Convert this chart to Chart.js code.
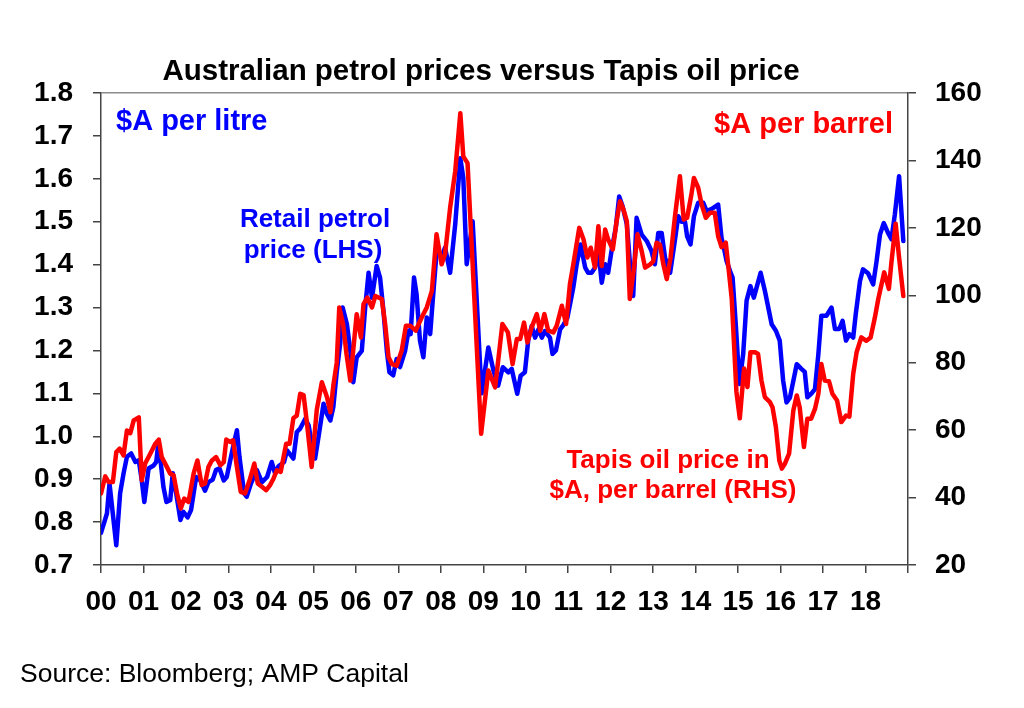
<!DOCTYPE html>
<html>
<head>
<meta charset="utf-8">
<title>Australian petrol prices versus Tapis oil price</title>
<script src="https://cdn.jsdelivr.net/npm/chart.js@4.4.0/dist/chart.umd.min.js"></script>
<style>
  html, body { margin: 0; padding: 0; background: #fff; }
  #wrap { width: 1024px; height: 708px; }
</style>
</head>
<body>
<div id="wrap"><canvas id="chart" width="1024" height="708"></canvas></div>
<script>
// years since 2000
const petrolYears = [
  0.00, 0.14, 0.20, 0.36, 0.45, 0.53, 0.61, 0.71, 0.81, 0.89,
  0.96, 1.02, 1.12, 1.24, 1.30, 1.34, 1.40, 1.47, 1.54, 1.63,
  1.69, 1.77, 1.87, 1.94, 2.04, 2.12, 2.24, 2.34, 2.45, 2.53,
  2.63, 2.71, 2.79, 2.89, 2.96, 3.11, 3.20, 3.26, 3.37, 3.43,
  3.53, 3.67, 3.79, 3.91, 4.02, 4.10, 4.18, 4.31, 4.38, 4.53,
  4.61, 4.69, 4.81, 4.89, 4.96, 5.04, 5.12, 5.24, 5.32, 5.40,
  5.47, 5.55, 5.63, 5.69, 5.79, 5.87, 5.94, 6.02, 6.14, 6.22,
  6.30, 6.38, 6.49, 6.57, 6.65, 6.73, 6.79, 6.88, 6.96, 7.04,
  7.16, 7.24, 7.29, 7.37, 7.43, 7.51, 7.59, 7.67, 7.75, 7.81,
  7.91, 8.02, 8.10, 8.22, 8.34, 8.46, 8.53, 8.61, 8.75, 8.96,
  9.12, 9.24, 9.35, 9.46, 9.59, 9.67, 9.80, 9.88, 9.98, 10.06,
  10.14, 10.22, 10.30, 10.38, 10.45, 10.57, 10.63, 10.71, 10.81, 10.89,
  10.98, 11.06, 11.12, 11.20, 11.29, 11.40, 11.47, 11.55, 11.63, 11.71,
  11.79, 11.87, 11.94, 12.02, 12.12, 12.20, 12.28, 12.38, 12.45, 12.53,
  12.61, 12.73, 12.85, 12.96, 13.04, 13.12, 13.20, 13.28, 13.40, 13.51,
  13.59, 13.67, 13.75, 13.80, 13.88, 13.96, 14.06, 14.18, 14.26, 14.38,
  14.53, 14.61, 14.65, 14.73, 14.81, 14.87, 14.95, 15.03, 15.12, 15.20,
  15.29, 15.37, 15.53, 15.63, 15.79, 15.89, 15.98, 16.06, 16.14, 16.22,
  16.38, 16.49, 16.57, 16.63, 16.73, 16.81, 16.89, 16.96, 17.08, 17.20,
  17.28, 17.38, 17.46, 17.54, 17.62, 17.71, 17.77, 17.87, 17.94, 18.06,
  18.18, 18.26, 18.34, 18.43, 18.53, 18.61, 18.69, 18.79, 18.89
];
// retail petrol, $A per litre (LHS)
const petrolPrice = [
  0.775, 0.820, 0.890, 0.746, 0.867, 0.913, 0.952, 0.960, 0.940, 0.944,
  0.897, 0.847, 0.925, 0.932, 0.940, 0.975, 0.944, 0.882, 0.847, 0.851,
  0.914, 0.867, 0.805, 0.824, 0.811, 0.828, 0.905, 0.897, 0.873, 0.893,
  0.899, 0.922, 0.925, 0.897, 0.905, 0.975, 1.014, 0.952, 0.867, 0.859,
  0.890, 0.921, 0.893, 0.905, 0.940, 0.913, 0.930, 0.940, 0.967, 0.948,
  1.010, 1.018, 1.041, 1.025, 0.983, 0.948, 0.998, 1.076, 1.052, 1.037,
  1.068, 1.150, 1.215, 1.300, 1.261, 1.199, 1.126, 1.184, 1.199, 1.300,
  1.381, 1.323, 1.397, 1.370, 1.292, 1.199, 1.149, 1.142, 1.180, 1.161,
  1.199, 1.246, 1.238, 1.370, 1.331, 1.223, 1.184, 1.277, 1.238, 1.316,
  1.440, 1.417, 1.440, 1.381, 1.494, 1.648, 1.602, 1.401, 1.501, 1.100,
  1.207, 1.153, 1.118, 1.161, 1.149, 1.157, 1.099, 1.141, 1.149, 1.225,
  1.257, 1.230, 1.249, 1.230, 1.245, 1.230, 1.192, 1.200, 1.249, 1.260,
  1.276, 1.316, 1.347, 1.401, 1.447, 1.393, 1.381, 1.381, 1.393, 1.432,
  1.358, 1.401, 1.381, 1.432, 1.486, 1.559, 1.536, 1.494, 1.408, 1.327,
  1.509, 1.470, 1.455, 1.432, 1.401, 1.474, 1.474, 1.416, 1.381, 1.455,
  1.513, 1.500, 1.500, 1.466, 1.447, 1.513, 1.544, 1.544, 1.525, 1.530,
  1.540, 1.462, 1.447, 1.408, 1.385, 1.370, 1.253, 1.122, 1.192, 1.316,
  1.350, 1.323, 1.381, 1.339, 1.261, 1.246, 1.223, 1.130, 1.079, 1.090,
  1.168, 1.157, 1.150, 1.091, 1.100, 1.110, 1.192, 1.281, 1.281, 1.300,
  1.250, 1.250, 1.269, 1.223, 1.238, 1.230, 1.285, 1.362, 1.389, 1.380,
  1.354, 1.408, 1.470, 1.497, 1.474, 1.459, 1.517, 1.606, 1.455
];

const oilYears = [
  0.00, 0.10, 0.18, 0.28, 0.36, 0.44, 0.53, 0.61, 0.69, 0.77,
  0.89, 0.96, 1.04, 1.16, 1.28, 1.36, 1.43, 1.55, 1.63, 1.71,
  1.79, 1.88, 1.96, 2.06, 2.18, 2.27, 2.37, 2.45, 2.53, 2.61,
  2.71, 2.81, 2.89, 2.95, 3.04, 3.11, 3.20, 3.29, 3.39, 3.51,
  3.61, 3.69, 3.79, 3.89, 3.98, 4.06, 4.14, 4.23, 4.36, 4.44,
  4.53, 4.61, 4.69, 4.77, 4.85, 4.96, 5.08, 5.20, 5.32, 5.40,
  5.47, 5.55, 5.61, 5.70, 5.78, 5.87, 6.02, 6.12, 6.18, 6.27,
  6.38, 6.46, 6.61, 6.69, 6.77, 6.85, 6.96, 7.08, 7.18, 7.28,
  7.41, 7.55, 7.67, 7.79, 7.90, 8.02, 8.10, 8.22, 8.34, 8.46,
  8.53, 8.63, 8.95, 9.12, 9.28, 9.45, 9.58, 9.69, 9.79, 9.87,
  9.96, 10.04, 10.14, 10.26, 10.34, 10.44, 10.53, 10.65, 10.73, 10.85,
  10.95, 11.04, 11.12, 11.26, 11.36, 11.45, 11.53, 11.63, 11.71, 11.79,
  11.87, 11.94, 12.05, 12.14, 12.22, 12.30, 12.38, 12.45, 12.55, 12.63,
  12.73, 12.81, 12.93, 13.00, 13.08, 13.16, 13.24, 13.32, 13.41, 13.51,
  13.63, 13.72, 13.80, 13.90, 13.96, 14.06, 14.14, 14.24, 14.34, 14.45,
  14.53, 14.61, 14.71, 14.79, 14.85, 14.96, 15.04, 15.14, 15.22, 15.29,
  15.40, 15.47, 15.55, 15.63, 15.75, 15.81, 15.89, 15.97, 16.03, 16.10,
  16.20, 16.30, 16.38, 16.45, 16.55, 16.63, 16.72, 16.81, 16.89, 16.96,
  17.04, 17.14, 17.22, 17.33, 17.43, 17.54, 17.62, 17.71, 17.79, 17.90,
  18.02, 18.12, 18.22, 18.30, 18.44, 18.55, 18.61, 18.71, 18.79, 18.89
];
// Tapis oil, $A per barrel (RHS)
const oilPrice = [
  41.2, 46.3, 44.6, 44.6, 53.5, 54.5, 52.5, 59.9, 59.1, 62.9,
  63.8, 45.1, 50.1, 53.0, 56.0, 57.2, 52.0, 49.1, 47.1, 46.6,
  41.2, 36.8, 39.7, 38.7, 47.1, 51.0, 43.7, 44.2, 49.1, 51.0,
  52.0, 49.6, 50.5, 57.2, 56.5, 57.0, 49.1, 41.7, 41.2, 45.6,
  50.1, 44.2, 43.2, 42.2, 43.7, 45.6, 48.1, 47.6, 56.0, 56.0,
  63.6, 64.3, 70.8, 70.4, 62.0, 49.1, 66.0, 74.2, 69.8, 65.3,
  73.2, 80.0, 96.4, 91.5, 82.6, 74.7, 94.4, 87.5, 97.4, 99.3,
  96.4, 99.8, 98.9, 91.5, 81.6, 79.6, 79.1, 83.6, 91.0, 91.0,
  89.5, 93.4, 96.4, 101.3, 118.1, 109.2, 112.2, 126.0, 136.8, 154.0,
  141.2, 139.2, 58.9, 77.7, 72.7, 91.5, 89.0, 79.6, 87.0, 87.0,
  91.9, 86.0, 90.5, 94.4, 89.5, 94.4, 89.5, 89.0, 91.0, 96.9,
  91.5, 103.3, 109.2, 120.0, 116.6, 111.2, 114.1, 108.2, 120.5, 108.7,
  119.5, 116.6, 113.6, 122.0, 127.9, 125.5, 122.0, 98.9, 108.2, 118.1,
  113.1, 108.2, 109.2, 110.0, 115.6, 115.0, 109.2, 104.8, 111.2, 123.0,
  135.3, 122.5, 123.0, 129.9, 134.8, 131.9, 127.0, 123.0, 124.5, 124.5,
  117.5, 114.3, 115.6, 106.2, 99.0, 71.4, 63.5, 78.3, 72.8, 83.1,
  83.1, 82.6, 74.7, 69.8, 68.3, 66.8, 60.9, 51.0, 48.6, 50.0,
  53.0, 65.8, 70.3, 66.8, 55.0, 63.4, 63.4, 66.3, 70.8, 79.6,
  74.7, 74.5, 70.8, 68.8, 62.4, 64.3, 64.0, 76.7, 83.1, 87.5,
  86.5, 87.5, 93.4, 98.9, 106.8, 101.9, 109.8, 121.2, 111.2, 99.8
];

const yearLabels = ['00', '01', '02', '03', '04', '05', '06', '07', '08', '09',
  '10', '11', '12', '13', '14', '15', '16', '17', '18'];

const FONT = "'Liberation Sans', Arial, Helvetica, sans-serif";
const BLUE = '#0000ff';
const RED = '#ff0000';
const AXIS = '#444444';

const toPoints = (xs, ys) => ys.map((y, i) => ({ x: xs[i], y: y }));

// chart texts (title, series notes, source)
const notes = {
  id: 'notes',
  afterDraw(chart) {
    const c = chart.ctx;
    const put = (text, x, y, color, size, align, weight) => {
      c.font = `${weight} ${size}px ${FONT}`;
      c.fillStyle = color;
      c.textAlign = align;
      c.fillText(text, x, y);
    };
    c.save();
    c.textBaseline = 'alphabetic';
    put('Australian petrol prices versus Tapis oil price', 481, 80, '#000', 29.5, 'center', 'bold');
    put('$A per litre', 116, 130, BLUE, 29, 'left', 'bold');
    put('$A per barrel', 893, 133, RED, 29, 'right', 'bold');
    put('Retail petrol', 315, 227, BLUE, 26, 'center', 'bold');
    put('price (LHS)', 313, 258, BLUE, 26, 'center', 'bold');
    put('Tapis oil price in', 668, 468, RED, 26, 'center', 'bold');
    put('$A, per barrel (RHS)', 673, 498, RED, 26, 'center', 'bold');
    put('Source: Bloomberg; AMP Capital', 20, 682, '#000', 26.5, 'left', 'normal');
    c.restore();
  }
};

const tickFont = { family: FONT, size: 28, weight: 'bold' };

new Chart(document.getElementById('chart'), {
  type: 'line',
  data: {
    datasets: [
      {
        label: 'Retail petrol price (LHS)',
        data: toPoints(petrolYears, petrolPrice),
        yAxisID: 'y',
        borderColor: BLUE,
        borderWidth: 4.5,
        pointRadius: 0,
        tension: 0,
        borderJoinStyle: 'round',
        borderCapStyle: 'round',
        order: 1
      },
      {
        label: 'Tapis oil price in $A, per barrel (RHS)',
        data: toPoints(oilYears, oilPrice),
        yAxisID: 'y2',
        borderColor: RED,
        borderWidth: 4.5,
        pointRadius: 0,
        tension: 0,
        borderJoinStyle: 'round',
        borderCapStyle: 'round',
        order: 0
      }
    ]
  },
  options: {
    responsive: false,
    animation: false,
    layout: { padding: { top: 93, left: 0, right: 0, bottom: 0 } },
    plugins: {
      legend: { display: false },
      tooltip: { enabled: false },
      title: { display: false }
    },
    scales: {
      x: {
        type: 'linear',
        min: 0,
        max: 19,
        ticks: {
          stepSize: 1,
          autoSkip: false,
          maxRotation: 0,
          padding: 12,
          color: '#000',
          font: tickFont,
          callback: (v) => yearLabels[v] ?? ''
        },
        grid: { drawOnChartArea: false, tickLength: 8, color: AXIS, lineWidth: 1.5 },
        border: { color: AXIS, width: 1.5 },
        afterFit(scale) {
          scale.height = 143;
          scale.paddingLeft = 0;
          scale.paddingRight = 0;
        }
      },
      y: {
        position: 'left',
        min: 0.7,
        max: 1.8,
        ticks: {
          stepSize: 0.1,
          padding: 20,
          color: '#000',
          font: tickFont,
          callback: (v) => v.toFixed(1)
        },
        grid: {
          drawOnChartArea: true,
          tickLength: 8,
          lineWidth: 1.5,
          tickColor: AXIS,
          // only the top frame line shows on the plot
          color: (ctx) => (ctx.tick && Math.abs(ctx.tick.value - 1.8) < 1e-6 ? '#8c8c8c' : 'rgba(0,0,0,0)')
        },
        border: { color: AXIS, width: 1.5 },
        afterFit(scale) {
          scale.width = 101;
          scale.paddingTop = 0;
          scale.paddingBottom = 0;
        }
      },
      y2: {
        position: 'right',
        min: 20,
        max: 160,
        ticks: {
          stepSize: 20,
          padding: 19,
          color: '#000',
          font: tickFont
        },
        grid: { drawOnChartArea: false, tickLength: 8, color: AXIS, lineWidth: 1.5 },
        border: { color: AXIS, width: 1.5 },
        afterFit(scale) {
          scale.width = 116;
          scale.paddingTop = 0;
          scale.paddingBottom = 0;
        }
      }
    }
  },
  plugins: [notes]
});
</script>
</body>
</html>
